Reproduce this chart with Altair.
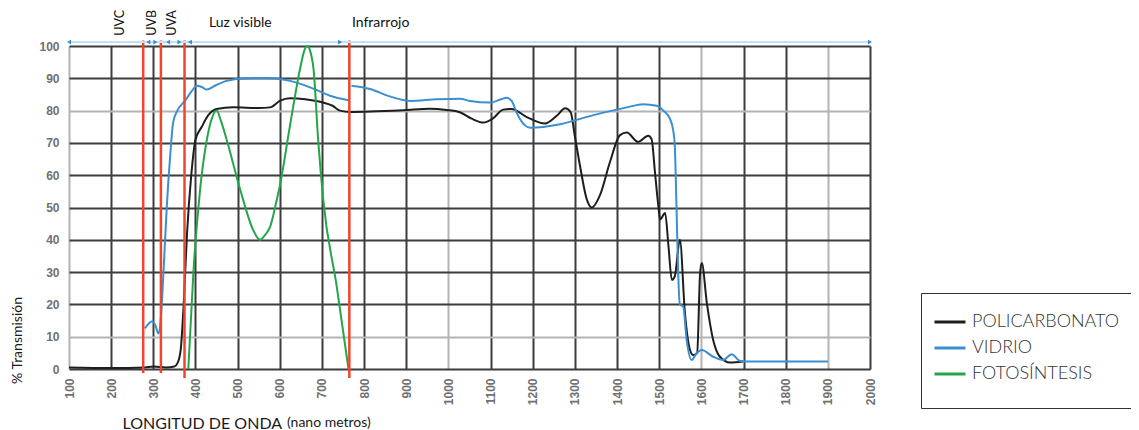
import altair as alt
import pandas as pd

# ---------------- data ----------------
series_names = ["POLICARBONATO", "VIDRIO", "FOTOSÍNTESIS"]
series_colors = ["#1e1e1e", "#3b8ed0", "#23a64a"]

poli_nm = [100, 200, 280, 300, 330, 350, 358, 365, 372, 380, 390, 400, 415, 430, 450, 490, 550,
           577, 600, 624, 660, 702, 725, 743, 767, 830, 893, 956, 996, 1027, 1055, 1083, 1105,
           1130, 1150, 1186, 1229, 1257, 1277, 1290, 1300, 1312, 1328, 1340, 1360, 1383, 1407,
           1423, 1450, 1474, 1482, 1490, 1498, 1502, 1514, 1522, 1530, 1537, 1549, 1561, 1573,
           1581, 1590, 1597, 1601, 1613, 1628, 1644, 1668, 1699]
poli_val = [0.5, 0.3, 0.5, 0.8, 0.5, 0.8, 2, 6, 20, 42, 60, 71, 75, 78.5, 80.5, 81, 80.8,
            81, 83, 83.8, 83.5, 82.5, 81.5, 80, 79.6, 79.8, 80.1, 80.6, 80.2, 79.5, 77.5, 76.3, 77.5,
            80.3, 80.5, 78, 76, 78.4, 80.7, 79.5, 72, 63, 52.6, 50, 54, 64, 72.4,
            73.2, 70.3, 72.2, 71.1, 60.8, 50.4, 46.3, 48.3, 38, 27.6, 28.7, 40, 17.3, 5.9,
            4.3, 5, 29.7, 32.8, 20.4, 9, 3.8, 2, 2.3]

vidrio1_nm = [280, 290, 296, 305, 312, 318, 324, 332, 340, 347, 357, 375, 391, 403, 415, 427,
              446, 474, 521, 569, 600, 624, 672, 719, 763]
vidrio1_val = [12.6, 14.2, 14.7, 13.5, 11, 16, 29.7, 50.4, 66, 76.3, 80, 83, 86, 87.7, 87.3, 86.5,
               87.7, 89.2, 90, 90.1, 89.8, 89.2, 87.2, 84.6, 83.2]
vidrio2_nm = [770, 814, 861, 909, 972, 1027, 1051, 1099, 1125, 1138, 1150, 1160, 1170, 1194,
              1265, 1344, 1423, 1462, 1494, 1510, 1526, 1533, 1537, 1541, 1545, 1549, 1557,
              1565, 1577, 1589, 1601, 1628, 1652, 1672, 1692, 1723, 1900]
vidrio2_val = [87.7, 86.7, 84.4, 83, 83.5, 83.7, 83, 82.5, 83.5, 84, 83, 80, 77.3, 74.7,
               75.8, 78.6, 81, 82, 81.5, 80, 77.3, 74, 69, 50.4, 29.7, 20, 19.3,
               9, 2.8, 4.9, 5.9, 3.8, 2.8, 4.6, 2.5, 2.3, 2.3]

foto_nm = [383, 395, 411, 427, 440, 450, 460, 474, 506, 537, 553, 565, 577, 593, 600, 624,
           648, 658, 665, 672, 680, 691, 703, 735, 763]
foto_val = [0, 29.7, 55.6, 71, 78, 80, 77, 71, 55.6, 43, 40, 41.5, 44, 52.5, 56.6, 75.2,
            92.9, 98.5, 100, 98.5, 92.9, 71, 52.5, 25.6, 0]

# red band limits (nm)
band_nm = [276, 318, 374, 765]
band_top = [101.7, 101.7, 101.7, 101.7]
band_bot = [-1.2, -1.2, -2.8, -2.8]

# top arrow line
arrow_from = [100]
arrow_to = [2000]
arrow_level = [101.2]
arrow_left_nm = [100, 288, 335, 387]
arrow_right_nm = [305, 362, 743, 2000]

# region labels
uv_labels = ["UVC", "UVB", "UVA"]
uv_nm = [221, 297, 345]
uv_level = [103.2, 103.2, 103.2]
region_labels = ["Luz visible", "Infrarrojo"]
region_nm = [432, 771]
region_level = [107.1, 107.1]

unit_label = ["(nano metros)"]
unit_nm = [617]
unit_level = [-16.8]

x_ticks = list(range(100, 2001, 100))
y_ticks = list(range(0, 101, 10))

# ---------------- tables ----------------
rows = []
for n, v in zip(poli_nm, poli_val):
    rows.append({"nm": n, "val": v, "serie": "POLICARBONATO", "seg": "p"})
for n, v in zip(vidrio1_nm, vidrio1_val):
    rows.append({"nm": n, "val": v, "serie": "VIDRIO", "seg": "v1"})
for n, v in zip(vidrio2_nm, vidrio2_val):
    rows.append({"nm": n, "val": v, "serie": "VIDRIO", "seg": "v2"})
for n, v in zip(foto_nm, foto_val):
    rows.append({"nm": n, "val": v, "serie": "FOTOSÍNTESIS", "seg": "f"})
df_lines = pd.DataFrame(rows)

df_bands = pd.DataFrame({"nm": band_nm, "val": band_top, "bot": band_bot})
df_arrow = pd.DataFrame({"nm": arrow_from, "b": arrow_to, "val": arrow_level})
df_al = pd.DataFrame({"nm": arrow_left_nm, "val": arrow_level * len(arrow_left_nm)})
df_ar = pd.DataFrame({"nm": arrow_right_nm, "val": arrow_level * len(arrow_right_nm)})
df_uv = pd.DataFrame({"nm": uv_nm, "val": uv_level, "t": uv_labels})
df_reg = pd.DataFrame({"nm": region_nm, "val": region_level, "t": region_labels})
df_unit = pd.DataFrame({"nm": unit_nm, "val": unit_level, "t": unit_label})

FONT = "Lato"
xscale = alt.Scale(domain=[100, 2000], nice=False, zero=False)
yscale = alt.Scale(domain=[0, 100], nice=False, zero=False)

grid_x_color = {"condition": {"test": "datum.value == 100 || datum.value == 1000 || datum.value == 1600 || datum.value == 1900",
                              "value": "#b4b4b4"}, "value": "#3c3c3c"}
grid_y_color = {"condition": {"test": "datum.value == 80 || datum.value == 10", "value": "#b4b4b4"},
                "value": "#3c3c3c"}

x_axis = alt.Axis(values=x_ticks, format="d", labelAngle=270, labelFont="Liberation Sans",
                  labelFontSize=12, labelFontWeight="bold",
                  labelColor="#707070", labelPadding=9, ticks=False, domain=False, grid=True,
                  gridColor=grid_x_color, gridWidth=2, labelFlush=False, labelOverlap=False,
                  title="LONGITUD DE ONDA", titleX=53, titleY=54, titleAlign="left",
                  titleBaseline="middle", titleFont=FONT, titleFontSize=16,
                  titleFontWeight="normal", titleColor="#1a1a1a")
y_axis = alt.Axis(values=y_ticks, format="d", labelFont="Liberation Sans", labelFontSize=12,
                  labelFontWeight="bold", labelColor="#707070",
                  labelPadding=10, ticks=False, domain=False, grid=True, gridColor=grid_y_color,
                  gridWidth=2, labelFlush=False, labelOverlap=False,
                  title="% Transmisión", titleAngle=270, titleX=-51.5, titleY=294,
                  titleAlign="center", titleBaseline="middle", titleFont=FONT, titleFontSize=14,
                  titleFontWeight="normal", titleColor="#1a1a1a")

X = alt.X("nm:Q", scale=xscale, axis=x_axis)
Y = alt.Y("val:Q", scale=yscale, axis=y_axis)

lines = alt.Chart(df_lines).mark_line(strokeWidth=2, interpolate="monotone").encode(
    x=X, y=Y,
    color=alt.Color("serie:N", scale=alt.Scale(domain=series_names, range=series_colors),
                    legend=alt.Legend(orient="none", legendX=852, legendY=247, title=" ",
                                      titleOrient="bottom", titleFontSize=9, titlePadding=4,
                                      symbolType="stroke", symbolSize=961, symbolStrokeWidth=3,
                                      labelFont=FONT, labelFontSize=18, labelFontWeight=300,
                                      labelColor="#333333", padding=12, rowPadding=-4.5,
                                      labelOffset=5, strokeColor="#333333",
                                      labelLimit=400)),
    detail="seg:N",
    order="nm:Q",
)

bands = alt.Chart(df_bands).mark_rule(color="#f0452b", strokeWidth=2.5).encode(
    x=X, y=Y, y2="bot:Q",
)

arrow_line = alt.Chart(df_arrow).mark_rule(color="#c3e1f5", strokeWidth=2).encode(
    x=X, x2="b:Q", y=Y,
)
arrows_l = alt.Chart(df_al).mark_point(shape="triangle-left", filled=True, color="#2f8fd8",
                                       size=22, opacity=1).encode(x=X, y=Y)
arrows_r = alt.Chart(df_ar).mark_point(shape="triangle-right", filled=True, color="#2f8fd8",
                                       size=22, opacity=1).encode(x=X, y=Y)

uv_text = alt.Chart(df_uv).mark_text(angle=270, align="left", baseline="middle", font=FONT,
                                     fontSize=12.5, color="#111111").encode(x=X, y=Y, text="t:N")
reg_text = alt.Chart(df_reg).mark_text(align="left", baseline="middle", font=FONT,
                                       fontSize=14, color="#111111").encode(x=X, y=Y, text="t:N")
unit_text = alt.Chart(df_unit).mark_text(align="left", baseline="middle", font=FONT,
                                         fontSize=14, color="#1a1a1a").encode(x=X, y=Y, text="t:N")

chart = alt.layer(lines, bands, arrow_line, arrows_l, arrows_r, uv_text, reg_text, unit_text).properties(
    width=801, height=323,
    autosize=alt.AutoSizeParams(type="none"),
    padding={"left": 61, "top": 38, "right": 261, "bottom": 61},
).configure_view(stroke=None).configure(background="white")

chart.save("out.html", embed_options={"renderer": "svg", "actions": False})
